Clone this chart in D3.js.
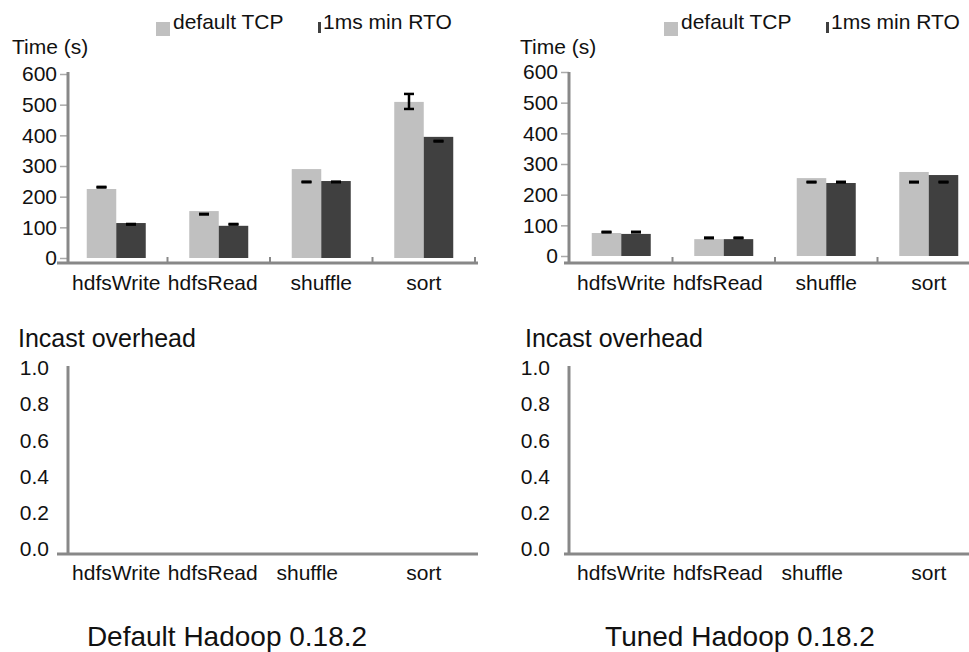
<!DOCTYPE html>
<html>
<head>
<meta charset="utf-8">
<script src="https://cdn.jsdelivr.net/npm/d3@7"></script>
<style>
  body { margin: 0; background: #fff; }
  text { font-family: "Liberation Sans", Arial, sans-serif; fill: #111; }
</style>
</head>
<body>
<div id="container"></div>
<script>
/* DATA */
const categories = ["hdfsWrite", "hdfsRead", "shuffle", "sort"]
const seriesNames = ["default TCP", "1ms min RTO"]
const timeTicks = [0, 100, 200, 300, 400, 500, 600]
const overheadTicks = [0, 0.2, 0.4, 0.6, 0.8, 1.0]

// Default Hadoop 0.18.2
const defaultTcpTime = [225, 153, 290, 509]
const defaultMinRtoTime = [114, 105, 251, 395]
const defaultTcpErr = [[230, 232], [142, 144], [247, 249], [486, 535]]
const defaultMinRtoErr = [[109, 111], [109, 111], [247, 249], [380, 382]]

// Tuned Hadoop 0.18.2
const tunedTcpTime = [75, 55, 254, 274]
const tunedMinRtoTime = [72, 55, 238, 264]
const tunedTcpErr = [[77, 79], [58, 60], [240, 242], [240, 242]]
const tunedMinRtoErr = [[77, 79], [58, 60], [240, 242], [240, 242]]

const titles = ["Default Hadoop 0.18.2", "Tuned Hadoop 0.18.2"]

/* CONSTANTS */
const width = 969, height = 652
const colors = ["#c0c0c0", "#404040"]
const axisColor = "#888"
const fs = "21px"

const svg = d3.select("#container")
  .append("svg")
  .attr("width", width)
  .attr("height", height)

svg.append("rect").attr("width", width).attr("height", height).attr("fill", "#fff")

const panels = [
  { axisX: 68, xRange: [65, 475], yRange: [258, 74], xLineStart: 57, xLineEnd: 478,
    timeLabelX: 12, incastX: 18, legendX: 156, titleX: 227,
    values: [defaultTcpTime, defaultMinRtoTime], errs: [defaultTcpErr, defaultMinRtoErr] },
  { axisX: 569, xRange: [570, 980], yRange: [256, 72], xLineStart: 564, xLineEnd: 969,
    timeLabelX: 520, incastX: 525, legendX: 664, titleX: 740,
    values: [tunedTcpTime, tunedMinRtoTime], errs: [tunedTcpErr, tunedMinRtoErr] }
]

// small nudges of category labels, like in the picture
const topShift = [0, -6, 0, 0]
const bottomShift = [0, -6, -14, 0]

panels.forEach((p, pi) => {
  // ---------- TOP: time chart ----------
  const x0 = d3.scaleBand().domain(categories).range(p.xRange)
  const x1 = d3.scaleBand().domain(seriesNames)
    .range([x0.bandwidth() / 2 - 29.5, x0.bandwidth() / 2 + 29.5])
  const y = d3.scaleLinear().domain([0, 600]).range(p.yRange)
  const baseY = 263

  // y ticks
  const yAxis = d3.axisLeft(y).tickValues(timeTicks).tickSize(8).tickPadding(3)
  const yg = svg.append("g")
    .attr("transform", `translate(${p.axisX}, 0)`)
    .call(yAxis)
  yg.select(".domain").remove()
  yg.selectAll(".tick line").attr("stroke", "#aaa").attr("stroke-width", 1.5)
  yg.selectAll(".tick text").style("font-size", fs).attr("fill", "#111")

  // bars
  seriesNames.forEach((s, si) => {
    svg.append("g").selectAll("rect")
      .data(categories)
      .join("rect")
      .attr("x", d => x0(d) + x1(s))
      .attr("y", (d, i) => y(p.values[si][i]))
      .attr("width", x1.bandwidth())
      .attr("height", (d, i) => y(0) - y(p.values[si][i]))
      .attr("fill", colors[si])
  })

  // error bars
  seriesNames.forEach((s, si) => {
    const g = svg.append("g").attr("stroke", "#000").attr("stroke-width", 2.5)
    categories.forEach((c, i) => {
      const cx = x0(c) + x1(s) + x1.bandwidth() / 2
      const [lo, hi] = p.errs[si][i]
      g.append("line").attr("x1", cx).attr("x2", cx).attr("y1", y(lo)).attr("y2", y(hi))
      g.append("line").attr("x1", cx - 5).attr("x2", cx + 5).attr("y1", y(lo)).attr("y2", y(lo))
      g.append("line").attr("x1", cx - 5).attr("x2", cx + 5).attr("y1", y(hi)).attr("y2", y(hi))
    })
  })

  // axis lines
  svg.append("line")
    .attr("x1", p.axisX).attr("x2", p.axisX).attr("y1", 72).attr("y2", baseY)
    .attr("stroke", axisColor).attr("stroke-width", 3)
  svg.append("line")
    .attr("x1", p.xLineStart).attr("x2", p.xLineEnd).attr("y1", baseY).attr("y2", baseY)
    .attr("stroke", axisColor).attr("stroke-width", 3)

  // category separators
  svg.append("g").selectAll("line")
    .data(categories.slice(1).concat(["end"]))
    .join("line")
    .attr("x1", (d, i) => p.xRange[0] + (i + 1) * x0.step())
    .attr("x2", (d, i) => p.xRange[0] + (i + 1) * x0.step())
    .attr("y1", baseY - 6).attr("y2", baseY)
    .attr("stroke", axisColor).attr("stroke-width", 2)

  // category labels
  const xAxis = d3.axisBottom(x0).tickSize(0).tickPadding(0)
  const xg = svg.append("g").attr("transform", `translate(0, ${290})`).call(xAxis)
  xg.select(".domain").remove()
  xg.selectAll(".tick text")
    .attr("dy", 0).attr("y", 0)
    .attr("dx", (d, i) => topShift[i])
    .style("font-size", fs).attr("fill", "#111")

  svg.append("text").attr("x", p.timeLabelX).attr("y", 54)
    .style("font-size", fs).text("Time (s)")

  // legend
  const lg = svg.append("g").attr("transform", `translate(${p.legendX}, 0)`)
  lg.append("rect").attr("x", 0).attr("y", 22).attr("width", 14).attr("height", 14).attr("fill", colors[0])
  lg.append("text").attr("x", 17).attr("y", 29).style("font-size", fs).text(seriesNames[0])
  lg.append("rect").attr("x", 162).attr("y", 22).attr("width", 3).attr("height", 11).attr("fill", colors[1])
  lg.append("text").attr("x", 167).attr("y", 29).style("font-size", fs).text(seriesNames[1])

  // ---------- BOTTOM: incast overhead (empty) ----------
  const yb = d3.scaleLinear().domain([0, 1]).range([549, 368])
  const baseB = 554
  const ybAxis = d3.axisLeft(yb).tickValues(overheadTicks).tickFormat(d3.format(".1f"))
    .tickSize(0).tickPadding(19)
  const ybg = svg.append("g").attr("transform", `translate(${p.axisX}, 0)`).call(ybAxis)
  ybg.select(".domain").remove()
  ybg.selectAll(".tick text").style("font-size", fs).attr("fill", "#111")

  svg.append("line")
    .attr("x1", p.axisX).attr("x2", p.axisX).attr("y1", 366).attr("y2", baseB)
    .attr("stroke", axisColor).attr("stroke-width", 3)
  svg.append("line")
    .attr("x1", p.xLineStart).attr("x2", p.xLineEnd).attr("y1", baseB).attr("y2", baseB)
    .attr("stroke", axisColor).attr("stroke-width", 3)

  const xbg = svg.append("g").attr("transform", `translate(0, ${580})`).call(xAxis)
  xbg.select(".domain").remove()
  xbg.selectAll(".tick text")
    .attr("dy", 0).attr("y", 0)
    .attr("dx", (d, i) => bottomShift[i])
    .style("font-size", fs).attr("fill", "#111")

  svg.append("text").attr("x", p.incastX).attr("y", 347)
    .style("font-size", "25px").text("Incast overhead")

  svg.append("text").attr("x", p.titleX).attr("y", 646)
    .attr("text-anchor", "middle")
    .style("font-size", "28px").text(titles[pi])
})
</script>
</body>
</html>
